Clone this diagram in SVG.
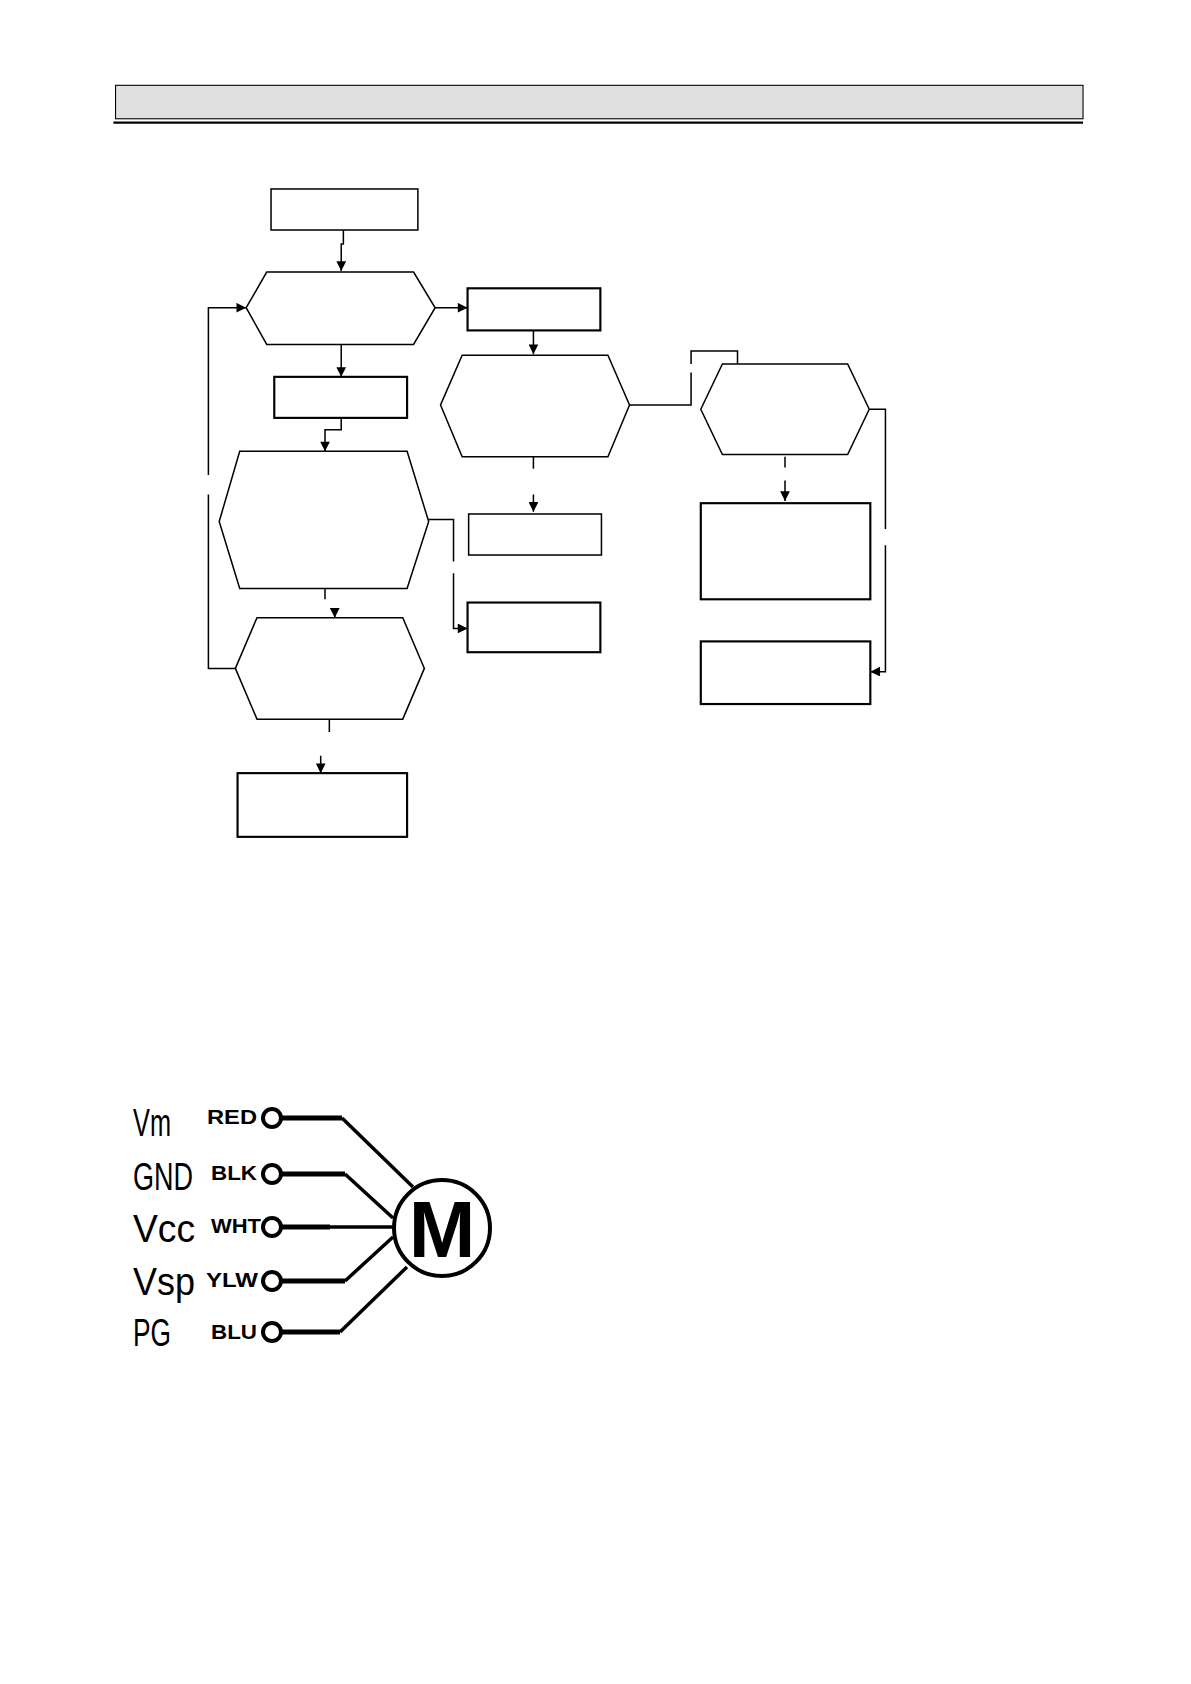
<svg xmlns="http://www.w3.org/2000/svg" width="1191" height="1684" viewBox="0 0 1191 1684">
<style>
.n{fill:#fff;stroke:#000;stroke-width:1.4}
.k{fill:#fff;stroke:#000;stroke-width:2}
.c{fill:none;stroke:#000;stroke-width:1.4}
.w{fill:none;stroke:#000;stroke-width:5;stroke-linejoin:round}
.d{fill:none;stroke:#000;stroke-width:3.5}
.t{fill:#fff;stroke:#000;stroke-width:4}
.lab{font-family:"Liberation Sans",Arial,sans-serif;font-weight:bold;font-size:20px;text-anchor:end}
.sig{font-family:"Liberation Sans",Arial,sans-serif;font-size:29px}
</style>
<defs>
<marker id="a" viewBox="0 0 10 10" refX="10" refY="5" markerWidth="10" markerHeight="9" orient="auto" markerUnits="userSpaceOnUse"><path d="M0,0L10,5L0,10z"/></marker>
</defs>
<rect width="1191" height="1684" fill="#fff"/>
<g transform="scale(1.0798)">
<g id="header"><rect x="107" y="79" width="896" height="31" fill="#e0e0e0" stroke="#000" stroke-width="1"/><line x1="105" y1="113.5" x2="1003" y2="113.5" stroke="#000" stroke-width="2"/></g>
<g id="n1"><rect class="n" x="251" y="175" width="136" height="38"/></g>
<g id="n2"><polygon class="n" points="228,285 247,252 383,252 403,285 383,319 247,319"/></g>
<g id="n3"><rect class="k" x="433" y="267" width="123" height="39"/></g>
<g id="n4"><polygon class="n" points="408,375 428,329 563,329 583,375 563,423 428,423"/></g>
<g id="n5"><polygon class="n" points="649,379 669,337 785,337 805,379 785,421 669,421"/></g>
<g id="n6"><rect class="k" x="649" y="466" width="157" height="89"/></g>
<g id="n7"><rect class="k" x="649" y="594" width="157" height="58"/></g>
<g id="n8"><rect class="n" x="434" y="476" width="123" height="38"/></g>
<g id="n9"><rect class="k" x="254" y="349" width="123" height="38"/></g>
<g id="n10"><polygon class="n" points="203,483 222,418 377,418 397,483 377,545 222,545"/></g>
<g id="n11"><rect class="k" x="433" y="558" width="123" height="46"/></g>
<g id="n12"><polygon class="n" points="218,619 238,572 373,572 393,619 373,666 238,666"/></g>
<g id="n13"><rect class="k" x="220" y="716" width="157" height="59"/></g>
<g id="connectors">
<path class="c" d="M318,213V226H316V251" marker-end="url(#a)"/>
<path class="c" d="M403,285H433" marker-end="url(#a)"/>
<path class="c" d="M494,306V328" marker-end="url(#a)"/>
<path class="c" d="M583,375H640V345M640,337V325H683V337"/>
<path class="c" d="M727,423V433M727,445V464" marker-end="url(#a)"/>
<path class="c" d="M805,379H820V490M820,505V622H806" marker-end="url(#a)"/>
<path class="c" d="M494,423V434M494,458V474" marker-end="url(#a)"/>
<path class="c" d="M316,319V349" marker-end="url(#a)"/>
<path class="c" d="M316,387V398H301V418" marker-end="url(#a)"/>
<path class="c" d="M397,481H420V520M420,531V582H433" marker-end="url(#a)"/>
<path class="c" d="M301,545V555M310,563V572" marker-end="url(#a)"/>
<path class="c" d="M218,619H193V458M193,440V285H228" marker-end="url(#a)"/>
<path class="c" d="M305,666V678M297,700V716" marker-end="url(#a)"/>
</g>
</g>
<g id="motor">
<path class="w" d="M282,1118H342"/><path class="d" d="M342,1118L413,1187"/>
<path class="w" d="M282,1174H345"/><path class="d" d="M345,1174L393,1218"/>
<path class="w" d="M282,1227H330"/><path class="d" d="M330,1227H393"/>
<path class="w" d="M282,1281H345"/><path class="d" d="M345,1281L393,1237"/>
<path class="w" d="M282,1332H340"/><path class="d" d="M340,1332L407,1267"/>
<circle cx="442" cy="1228" r="48" fill="#fff" stroke="#000" stroke-width="4"/>
<text x="442" y="1257" font-family="Liberation Sans,Arial,sans-serif" font-weight="bold" font-size="80" text-anchor="middle">M</text>
<circle class="t" cx="272" cy="1118" r="9"/><circle class="t" cx="272" cy="1174" r="9"/><circle class="t" cx="272" cy="1227" r="9"/><circle class="t" cx="272" cy="1281" r="9"/><circle class="t" cx="272" cy="1332" r="9"/>
<text class="lab" x="257" y="1124" textLength="50" lengthAdjust="spacingAndGlyphs">RED</text>
<text class="lab" x="257" y="1180" textLength="46" lengthAdjust="spacingAndGlyphs">BLK</text>
<text class="lab" x="261" y="1233" textLength="50" lengthAdjust="spacingAndGlyphs">WHT</text>
<text class="lab" x="258" y="1287" textLength="52" lengthAdjust="spacingAndGlyphs">YLW</text>
<text class="lab" x="257" y="1339" textLength="46" lengthAdjust="spacingAndGlyphs">BLU</text>
<g transform="translate(0,-392) scale(1,1.35)">
<text class="sig" x="133" y="1131.9" textLength="38" lengthAdjust="spacingAndGlyphs">Vm</text>
<text class="sig" x="133" y="1171.9" textLength="60" lengthAdjust="spacingAndGlyphs">GND</text>
<text class="sig" x="133" y="1210.4" textLength="62" lengthAdjust="spacingAndGlyphs">Vcc</text>
<text class="sig" x="133" y="1249.6" textLength="62" lengthAdjust="spacingAndGlyphs">Vsp</text>
<text class="sig" x="133" y="1287.4" textLength="38" lengthAdjust="spacingAndGlyphs">PG</text>
</g>
</g>
</svg>
